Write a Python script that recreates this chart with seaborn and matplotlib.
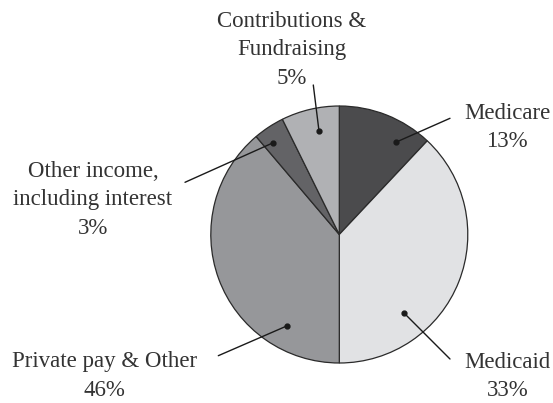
import matplotlib
matplotlib.use("Agg")
import matplotlib.pyplot as plt
import seaborn as sns

sources = ["Medicare", "Medicaid", "Private pay & Other",
           "Other income,\nincluding interest", "Contributions &\nFundraising"]
# wedge sizes as they are drawn in the picture (printed labels differ a bit)
shares = [12.0, 38.0, 38.8, 3.9, 7.3]
pct_labels = ["13%", "33%", "46%", "3%", "5%"]

greys = ["#4b4b4d", "#e1e2e4", "#96979a", "#636366", "#b0b1b4"]

sns.set_style("white")
plt.rcParams["font.family"] = ["Liberation Serif", "DejaVu Serif"]

W, H = 553, 403
fig = plt.figure(figsize=(W / 100, H / 100), dpi=100)
ax = fig.add_axes([0, 0, 1, 1])

ax.pie(
    shares,
    colors=greys,
    startangle=90,
    counterclock=False,
    center=(339.3, H - 234.5),
    radius=128.5,
    wedgeprops={"edgecolor": "#2a2a2a", "linewidth": 0.9},
)
ax.set_xlim(0, W)
ax.set_ylim(0, H)
ax.axis("off")

# callouts: dot inside wedge, end of leader line, label centre (image pixels)
callouts = [
    ((395.7, 142.3), (450.0, 118.3), (507.0, 127.4)),
    ((404.3, 313.3), (450.0, 359.0), (507.5, 376.7)),
    ((286.7, 326.0), (218.3, 355.7), (104.3, 376.0)),
    ((273.3, 142.7), (185.0, 182.3), (93.0, 200.0)),
    ((319.0, 131.0), (313.3, 85.0), (292.0, 50.0)),
]

for name, pct, (dot, end, txt) in zip(sources, pct_labels, callouts):
    ax.plot([dot[0], end[0]], [H - dot[1], H - end[1]], color="#1a1a1a", lw=1.0)
    ax.plot(dot[0], H - dot[1], "o", color="#1a1a1a", ms=3.5)
    ax.text(txt[0], H - txt[1], f"{name}\n{pct}", ha="center", va="center",
            fontsize=16.5, color="#333333", linespacing=1.45)

fig.savefig("out.png", dpi=100)
